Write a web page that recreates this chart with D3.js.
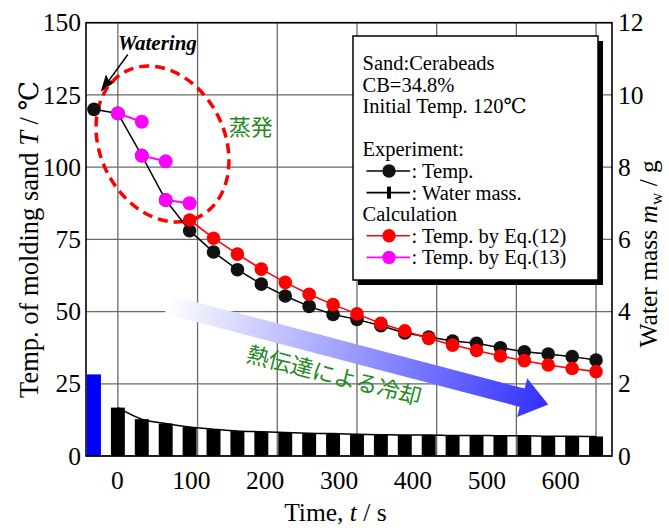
<!DOCTYPE html>
<html>
<head>
<meta charset="utf-8">
<script src="https://cdn.jsdelivr.net/npm/d3@7"></script>
<style>
  body { margin: 0; background: #fff; }
</style>
</head>
<body>
<div id="chart"></div>
<script>
// experiment: temperature (every 30 s, first point before watering)
const tExp = [-30, 0, 30, 60, 90, 120, 150, 180, 210, 240, 270, 300, 330, 360, 390, 420, 450, 480, 510, 540, 570, 600];
const tempExp = [120, 118.6, 104, 88.6, 78, 70.6, 64.5, 59.5, 55.4, 51.8, 49, 47.3, 45.1, 42.6, 41.2, 39.8, 39, 37.5, 36.1, 35.3, 34.4, 33.2];

// calculation by Eq.(12)
const t12 = [90, 120, 150, 180, 210, 240, 270, 300, 330, 360, 390, 420, 450, 480, 510, 540, 570, 600];
const temp12 = [81.7, 75.4, 69.9, 64.7, 60.1, 56.0, 52.4, 49.2, 45.9, 43.3, 40.7, 38.4, 36.5, 34.6, 33.0, 31.5, 30.3, 29.2];

// calculation by Eq.(13): short 30 s steps starting from measured points
const t13 = [[0, 30], [30, 60], [60, 90]];
const temp13 = [[118.6, 115.7], [104, 102], [88.6, 87.5]];

// water mass
const tWater = [0, 30, 60, 90, 120, 150, 180, 210, 240, 270, 300, 330, 360, 390, 420, 450, 480, 510, 540, 570, 600];
const water = [1.34, 1.02, 0.90, 0.80, 0.74, 0.69, 0.67, 0.65, 0.63, 0.62, 0.60, 0.59, 0.58, 0.58, 0.57, 0.57, 0.56, 0.56, 0.55, 0.55, 0.54];
const tWatering = -30, waterAdded = 2.26;

const xTicks = [0, 100, 200, 300, 400, 500, 600];
const yTicks = [0, 25, 50, 75, 100, 125, 150];
const yRTicks = [0, 2, 4, 6, 8, 10, 12];

const legendInfo = ["Sand:Cerabeads", "CB=34.8%", "Initial Temp. 120\u2103"];

const SERIF = '"Liberation Serif", "Times New Roman", Tinos, "DejaVu Serif", serif';
const JP = '"Noto Sans CJK JP", "Noto Sans CJK SC", sans-serif';

const W = 669, H = 528;
const margin = { top: 22.7, right: 57, bottom: 72, left: 86 };
const width = W - margin.left - margin.right;
const height = H - margin.top - margin.bottom;

const svg = d3.select("#chart").append("svg")
    .attr("width", W).attr("height", H)
    .attr("font-family", SERIF);

const defs = svg.append("defs");
const grad = defs.append("linearGradient").attr("id", "arrowGrad")
    .attr("x1", "0%").attr("x2", "100%").attr("y1", "0%").attr("y2", "0%");
grad.append("stop").attr("offset", "0%").attr("stop-color", "#ffffff");
grad.append("stop").attr("offset", "100%").attr("stop-color", "#3030ff");

const g = svg.append("g").attr("transform", `translate(${margin.left},${margin.top})`);

const x = d3.scaleLinear().domain([-40, 620]).range([0, width]);
const y = d3.scaleLinear().domain([0, 150]).range([height, 0]);
const yR = d3.scaleLinear().domain([0, 12]).range([height, 0]);
// tick labels in the original sit slightly off the grid
const xLab = d3.scaleLinear().domain([0, 600]).range([x(0) - 1, x(555)]);

// gridlines
g.append("g").selectAll("line").data(yTicks).join("line")
    .attr("x1", 0).attr("x2", width)
    .attr("y1", d => y(d)).attr("y2", d => y(d))
    .attr("stroke", "#6a6a6a").attr("stroke-width", 1.3);
g.append("g").selectAll("line").data(xTicks).join("line")
    .attr("x1", d => x(d)).attr("x2", d => x(d))
    .attr("y1", 0).attr("y2", height)
    .attr("stroke", "#6a6a6a").attr("stroke-width", 1.3);

// water mass bars
const barW = x(17.5) - x(0);
g.append("rect")
    .attr("x", x(tWatering) - barW / 2).attr("width", barW)
    .attr("y", yR(waterAdded)).attr("height", height - yR(waterAdded))
    .attr("fill", "#0000ff");
g.append("g").selectAll("rect").data(water).join("rect")
    .attr("x", (d, i) => x(tWater[i]) - barW / 2).attr("width", barW)
    .attr("y", d => yR(d)).attr("height", d => height - yR(d))
    .attr("fill", "#000");
g.append("path")
    .datum(water)
    .attr("fill", "none").attr("stroke", "#000").attr("stroke-width", 1.5)
    .attr("d", d3.line().x((d, i) => x(tWater[i])).y(d => yR(d)).curve(d3.curveMonotoneX));

// cooling arrow
const arrowStart = [x(62), y(52.5)], arrowEnd = [x(540), y(17.8)];
const aLen = Math.hypot(arrowEnd[0] - arrowStart[0], arrowEnd[1] - arrowStart[1]);
const aAng = Math.atan2(arrowEnd[1] - arrowStart[1], arrowEnd[0] - arrowStart[0]) * 180 / Math.PI;
const bodyH = 9.5, headH = 20, headL = 27;
g.append("path")
    .attr("transform", `translate(${arrowStart[0]},${arrowStart[1]}) rotate(${aAng})`)
    .attr("d", `M0,${-bodyH} L${aLen - headL},${-bodyH} L${aLen - headL},${-headH} L${aLen},0 L${aLen - headL},${headH} L${aLen - headL},${bodyH} L0,${bodyH} Z`)
    .attr("fill", "url(#arrowGrad)");
g.append("text")
    .attr("font-family", JP)
    .attr("transform", `translate(${x(272)},${y(28.5)}) rotate(14.3)`)
    .attr("text-anchor", "middle").attr("dominant-baseline", "central")
    .attr("font-size", 22.5).attr("fill", "#1f8a1f")
    .text("熱伝達による冷却");

// watering arrow
const wTip = [x(-21.5), y(126.1)], wFrom = [x(12.5), y(139)];
const wAng = Math.atan2(wTip[1] - wFrom[1], wTip[0] - wFrom[0]) * 180 / Math.PI;
const wLen = Math.hypot(wTip[0] - wFrom[0], wTip[1] - wFrom[1]);
const wArrow = g.append("g").attr("transform", `translate(${wFrom[0]},${wFrom[1]}) rotate(${wAng})`);
wArrow.append("line").attr("x1", 0).attr("x2", wLen - 10).attr("y1", 0).attr("y2", 0)
    .attr("stroke", "#000").attr("stroke-width", 1.5);
wArrow.append("path").attr("d", `M${wLen},0 L${wLen - 17},-6 L${wLen - 14},0 L${wLen - 17},6 Z`)
    .attr("fill", "#000");
g.append("text")
    .attr("x", x(0)).attr("y", y(140.5))
    .attr("font-size", 21).attr("font-weight", "bold").attr("font-style", "italic")
    .text("Watering");

// evaporation ellipse
g.append("ellipse")
    .attr("transform", `translate(${x(56)},${y(108)}) rotate(63.5)`)
    .attr("rx", 81.4).attr("ry", 62.2)
    .attr("fill", "none").attr("stroke", "#ff0000").attr("stroke-width", 3.5)
    .attr("stroke-dasharray", "10,6");
g.append("text")
    .attr("font-family", JP)
    .attr("x", x(139)).attr("y", y(111))
    .attr("font-size", 22).attr("fill", "#1f8a1f")
    .text("蒸発");

// experiment temperature
g.append("path").datum(tempExp)
    .attr("fill", "none").attr("stroke", "#000").attr("stroke-width", 1.5)
    .attr("d", d3.line().x((d, i) => x(tExp[i])).y(d => y(d)));
g.append("g").selectAll("circle").data(tempExp).join("circle")
    .attr("cx", (d, i) => x(tExp[i])).attr("cy", d => y(d)).attr("r", 6.8)
    .attr("fill", "#111");

// Eq.(12)
g.append("path").datum(temp12)
    .attr("fill", "none").attr("stroke", "#ff0000").attr("stroke-width", 1.6)
    .attr("d", d3.line().x((d, i) => x(t12[i])).y(d => y(d)));
g.append("g").selectAll("circle").data(temp12).join("circle")
    .attr("cx", (d, i) => x(t12[i])).attr("cy", d => y(d)).attr("r", 6.8)
    .attr("fill", "#ff0000");

// Eq.(13)
temp13.forEach((seg, k) => {
    g.append("path").datum(seg)
        .attr("fill", "none").attr("stroke", "#ff00ff").attr("stroke-width", 2)
        .attr("d", d3.line().x((d, i) => x(t13[k][i])).y(d => y(d)));
    g.append("g").selectAll("circle").data(seg).join("circle")
        .attr("cx", (d, i) => x(t13[k][i])).attr("cy", d => y(d)).attr("r", 7)
        .attr("fill", "#ff00ff");
});

// legend box
const lg = svg.append("g").attr("transform", "translate(353,36)");
const lw = 245, lh = 244;
lg.append("rect").attr("x", 5).attr("y", 5).attr("width", lw).attr("height", lh).attr("fill", "#000");
lg.append("rect").attr("width", lw).attr("height", lh)
    .attr("fill", "#fff").attr("stroke", "#000").attr("stroke-width", 1.5);
const lineH = 21.6, fs = 20.5, tx = 9.5, base0 = 34;
legendInfo.forEach((s, i) => {
    lg.append("text").attr("x", tx).attr("y", base0 + i * lineH).attr("font-size", fs).text(s);
});
const legendItems = [
    { head: "Experiment:" },
    { label: ": Temp.", color: "#000", mark: "circle", mcolor: "#111" },
    { label: ": Water mass.", color: "#000", mark: "bar", mcolor: "#000" },
    { head: "Calculation" },
    { label: ": Temp. by Eq.(12)", color: "#ff0000", mark: "circle", mcolor: "#ff0000" },
    { label: ": Temp. by Eq.(13)", color: "#ff00ff", mark: "circle", mcolor: "#ff00ff" }
];
legendItems.forEach((it, i) => {
    const by = base0 + (i + 4) * lineH;
    if (it.head) {
        lg.append("text").attr("x", tx).attr("y", by).attr("font-size", fs).text(it.head);
        return;
    }
    const my = by - 7;
    lg.append("line").attr("x1", 13.5).attr("x2", 57).attr("y1", my).attr("y2", my)
        .attr("stroke", it.color).attr("stroke-width", 1.6);
    if (it.mark === "circle") {
        lg.append("circle").attr("cx", 36).attr("cy", my).attr("r", 6.7).attr("fill", it.mcolor);
    } else {
        lg.append("rect").attr("x", 34).attr("y", my - 6).attr("width", 4).attr("height", 12).attr("fill", it.mcolor);
    }
    lg.append("text").attr("x", 58.5).attr("y", by).attr("font-size", fs).text(it.label);
});

// frame
g.append("rect").attr("width", width).attr("height", height)
    .attr("fill", "none").attr("stroke", "#000").attr("stroke-width", 1.6);

// axes
const axL = g.append("g").call(d3.axisLeft(y).tickValues(yTicks).tickSize(0).tickPadding(5));
const axR = g.append("g").attr("transform", `translate(${width},0)`)
    .call(d3.axisRight(yR).tickValues(yRTicks).tickSize(0).tickPadding(6));
const axB = g.append("g").attr("transform", `translate(0,${height})`)
    .call(d3.axisBottom(xLab).tickValues(xTicks).tickSize(0).tickPadding(15));
[axL, axR, axB].forEach(a => {
    a.attr("font-family", SERIF).attr("font-size", 25.5);
    a.select(".domain").remove();
    a.selectAll("text").attr("fill", "#000");
});

// axis titles
const titleL = svg.append("text")
    .attr("transform", `translate(38,${margin.top + y(75)}) rotate(-90)`)
    .attr("text-anchor", "middle").attr("font-size", 26.5);
titleL.append("tspan").text("Temp. of molding sand ");
titleL.append("tspan").attr("font-style", "italic").text("T");
titleL.append("tspan").text(" / \u2103");

const titleR = svg.append("text")
    .attr("transform", `translate(657,${margin.top + yR(5.6)}) rotate(-90)`)
    .attr("text-anchor", "middle").attr("font-size", 25.5);
titleR.append("tspan").text("Water mass ");
titleR.append("tspan").attr("font-style", "italic").text("m");
titleR.append("tspan").attr("font-size", 17).attr("dy", 5).text("w");
titleR.append("tspan").attr("dy", -5).text(" / g");

const titleB = svg.append("text")
    .attr("x", margin.left + x(273)).attr("y", 521)
    .attr("text-anchor", "middle").attr("font-size", 25.5);
titleB.append("tspan").text("Time, ");
titleB.append("tspan").attr("font-style", "italic").text("t");
titleB.append("tspan").text(" / s");
</script>
</body>
</html>
